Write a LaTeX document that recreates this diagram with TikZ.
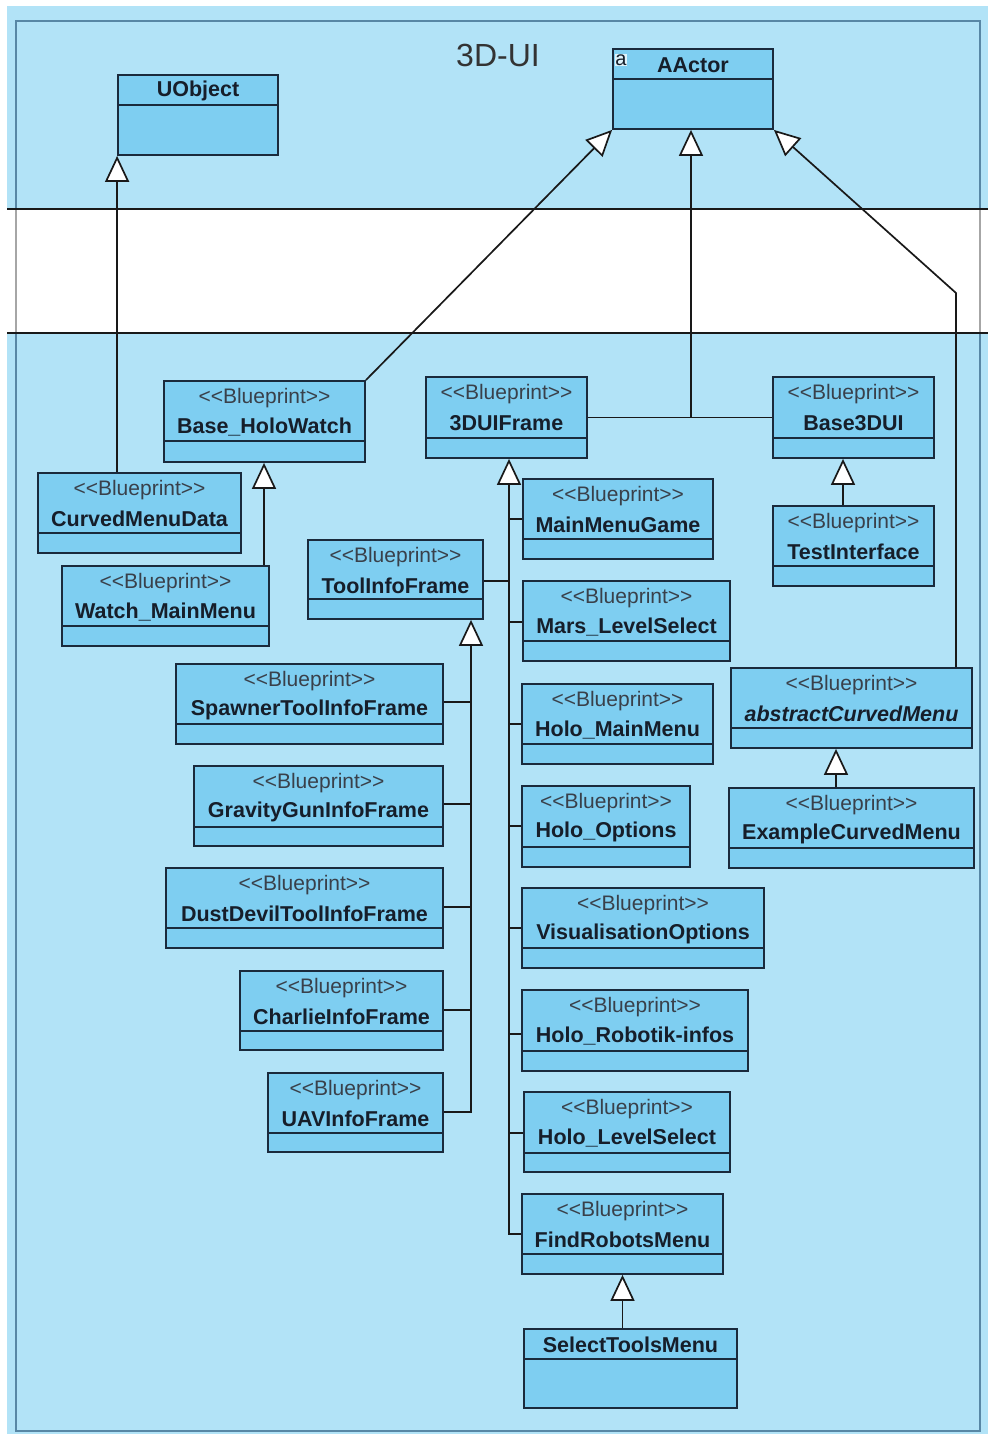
\documentclass[tikz,border=0pt]{standalone}
\usepackage{fontspec}
\setmainfont{Liberation Sans}
\usetikzlibrary{arrows.meta}

\definecolor{pagebg}{RGB}{178,227,247}
\definecolor{clsfill}{RGB}{126,206,241}
\definecolor{clsedge}{RGB}{26,42,60}
\definecolor{framecol}{RGB}{88,135,165}
\definecolor{txtcol}{RGB}{22,30,42}

\tikzset{
  clsbox/.style={rectangle, draw=clsedge, line width=1.8pt, fill=clsfill, inner sep=0pt},
  clsdiv/.style={draw=clsedge, line width=1.8pt},
  stereo/.style={font=\fontsize{21}{24}\selectfont, text=txtcol!85, inner sep=0pt},
  clsname/.style={font=\fontsize{21.5}{24}\selectfont\bfseries, text=txtcol, inner sep=0pt},
  link/.style={draw=black!90, line width=1.7pt},
  gen/.style={link, -{Triangle[length=26pt,width=24pt,fill=white]}},
}

% class box with a <<Blueprint>> stereotype: name, x1, y1, x2, y2, divider y, class name
\newcommand{\bpclass}[7]{%
  \node[clsbox, minimum width={(#4-#2)*1pt}, minimum height={(#5-#3)*1pt}] (#1) at ({(#2+#4)/2},{(#3+#5)/2}) {};
  \draw[clsdiv] (#2,#6) -- (#4,#6);
  \node[stereo] at ({(#2+#4)/2},{#3+17}) {<\kern0pt<Blueprint>\kern0pt>};
  \node[clsname] at ({(#2+#4)/2},{#3+46}) {#7};
}
% plain class box: name, x1, y1, x2, y2, divider y, class name
\newcommand{\plainclass}[7]{%
  \node[clsbox, minimum width={(#4-#2)*1pt}, minimum height={(#5-#3)*1pt}] (#1) at ({(#2+#4)/2},{(#3+#5)/2}) {};
  \draw[clsdiv] (#2,#6) -- (#4,#6);
  \node[clsname] at ({(#2+#4)/2},{#3+16}) {#7};
}

\begin{document}
\begin{tikzpicture}[x=1pt, y=-1pt]
\useasboundingbox (0,0) rectangle (988,1434);

% package area
\fill[white] (0,0) rectangle (988,1434);
\fill[pagebg] (7,6) rectangle (988,1434);
\draw[framecol, line width=2pt] (16,21) rectangle (980,1431);
\fill[white] (7,209) rectangle (988,333);
\draw[black!35, line width=1.6pt] (16,209) -- (16,333) (980,209) -- (980,333);
\draw[black!90, line width=1.8pt] (7,209) -- (988,209) (7,333) -- (988,333);
\node[font=\fontsize{32}{34}\selectfont, text=black!80, inner sep=0pt] (title) at (498,55) {3D-UI};

% classes
\plainclass{uobj}{118}{75}{278}{155}{105}{UObject}
\plainclass{aact}{613}{49}{773}{129}{79}{AActor}
\node[fill=white!75!clsfill, inner sep=0.6pt, font=\fontsize{20}{20}\selectfont, text=txtcol] (abs) at (621,60) {a};

\bpclass{bhw}{164}{381}{365}{462}{441}{Base\_HoloWatch}
\bpclass{cmd}{38}{473}{241}{553}{533}{CurvedMenuData}
\bpclass{wmm}{62}{566}{269}{646}{626}{Watch\_MainMenu}
\bpclass{tif}{308}{540}{483}{619}{599}{ToolInfoFrame}
\bpclass{frm}{426}{377}{587}{458}{438}{3DUIFrame}
\bpclass{b3d}{773}{377}{934}{458}{438}{Base3DUI}
\bpclass{mmg}{523}{479}{713}{559}{539}{MainMenuGame}
\bpclass{tst}{773}{506}{934}{586}{566}{TestInterface}
\bpclass{mls}{523}{581}{730}{661}{641}{Mars\_LevelSelect}
\bpclass{stif}{176}{664}{443}{744}{724}{SpawnerToolInfoFrame}
\bpclass{ggif}{194}{766}{443}{846}{827}{GravityGunInfoFrame}
\bpclass{ddif}{166}{868}{443}{948}{928}{DustDevilToolInfoFrame}
\bpclass{chif}{240}{971}{443}{1050}{1031}{CharlieInfoFrame}
\bpclass{uavf}{268}{1073}{443}{1152}{1133}{UAVInfoFrame}
\bpclass{hmm}{522}{684}{713}{764}{744}{Holo\_MainMenu}
\bpclass{hop}{522}{786}{690}{867}{847}{Holo\_Options}
\bpclass{vis}{522}{888}{764}{968}{948}{VisualisationOptions}
\bpclass{hri}{522}{990}{748}{1071}{1051}{Holo\_Robotik-infos}
\bpclass{hls}{524}{1092}{730}{1172}{1153}{Holo\_LevelSelect}
\bpclass{frmenu}{522}{1194}{723}{1274}{1254}{FindRobotsMenu}
\plainclass{stm}{524}{1329}{737}{1408}{1359}{SelectToolsMenu}
\bpclass{acm}{731}{668}{972}{748}{728}{\itshape abstractCurvedMenu}
\bpclass{ecm}{729}{788}{974}{868}{848}{ExampleCurvedMenu}

% generalisations towards the top-level classes
\draw[gen] (cmd.north -| uobj.south west) -- (uobj.south west);
\draw[gen] (264,0 |- wmm.north) -- (264,0 |- bhw.south);
\draw[gen] (bhw.north east) -- (aact.south west);
\draw[link] (frm.east) -- (b3d.west);
\coordinate (join) at (691,417.5);
\draw[gen] (join) -- (join |- aact.south);
\coordinate (kink) at (956,293);
\draw[gen] (kink |- acm.north) -- (kink) -- (aact.south east);
\draw[gen] (843,0 |- tst.north) -- (843,0 |- b3d.south);
\draw[gen] (836,0 |- ecm.north) -- (836,0 |- acm.south);
\draw[gen] (frmenu.south |- stm.north) -- (frmenu.south);

% 3DUIFrame subclasses share one trunk
\coordinate (fbend) at (509,1234);
\draw[gen] (frmenu.west |- fbend) -- (fbend) -- (fbend |- frm.south);
\foreach \n/\y in {mmg/519, mls/622, hmm/724, hop/826, vis/928, hri/1034, hls/1133}
  \draw[link] (\n.west |- 0,\y) -- (fbend |- 0,\y);
\draw[link] (tif.east |- 0,581) -- (fbend |- 0,581);

% ToolInfoFrame subclasses share one trunk
\coordinate (tbend) at (471,1112);
\draw[gen] (uavf.east |- tbend) -- (tbend) -- (tbend |- tif.south);
\foreach \n/\y in {stif/702, ggif/804, ddif/907, chif/1010}
  \draw[link] (\n.east |- 0,\y) -- (tbend |- 0,\y);
\end{tikzpicture}
\end{document}
